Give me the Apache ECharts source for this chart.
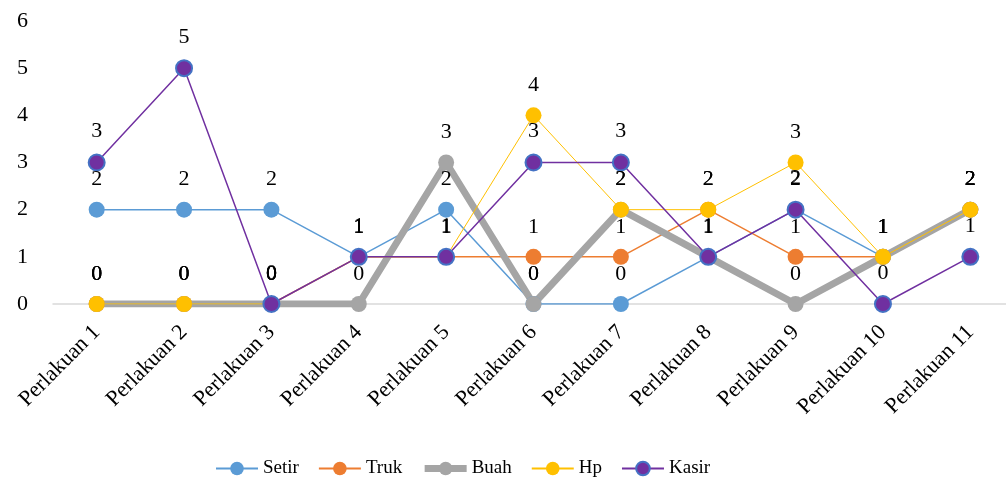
<!DOCTYPE html>
<html>
<head>
<meta charset="utf-8">
<script src="https://cdn.jsdelivr.net/npm/echarts@6/dist/echarts.min.js"></script>
<style>
  html, body { margin: 0; padding: 0; background: #fff; }
  #chart { width: 1006px; height: 481px; }
</style>
</head>
<body>
<div id="chart"></div>
<script>
// Categories and values per series
const categories = ['Perlakuan 1', 'Perlakuan 2', 'Perlakuan 3', 'Perlakuan 4', 'Perlakuan 5',
  'Perlakuan 6', 'Perlakuan 7', 'Perlakuan 8', 'Perlakuan 9', 'Perlakuan 10', 'Perlakuan 11'];
const setir = [2, 2, 2, 1, 2, 0, 0, 1, 2, 1, 2];
const truk  = [0, 0, 0, 1, 1, 1, 1, 2, 1, 1, 2];
const buah  = [0, 0, 0, 0, 3, 0, 2, 1, 0, 1, 2];
const hp    = [0, 0, 0, 1, 1, 4, 2, 2, 3, 1, 2];
const kasir = [3, 5, 0, 1, 1, 3, 3, 1, 2, 0, 1];
const yTicks = [0, 1, 2, 3, 4, 5, 6];

const FONT = '"Liberation Serif", "Times New Roman", serif';

function lineSeries(name, data, color, width, opts) {
  opts = opts || {};
  return {
    name: name,
    type: 'line',
    data: data,
    symbol: 'circle',
    symbolSize: 16,
    lineStyle: { color: color, width: width },
    itemStyle: {
      color: opts.fill || color,
      borderColor: opts.border || color,
      borderWidth: opts.borderWidth || 0
    },
    label: {
      show: true,
      position: 'top',
      distance: 11,
      color: '#000',
      fontFamily: FONT,
      fontSize: 22
    },
    emphasis: { disabled: true },
    animation: false
  };
}

const chart = echarts.init(document.getElementById('chart'));
chart.setOption({
  backgroundColor: '#fff',
  // the plot extends a little past the right edge, so the last half-band is cut
  grid: { left: 53, top: 21, width: 961, bottom: 177, containLabel: false, outerBoundsMode: 'none' },
  legend: {
    top: 454,
    left: 210,
    itemWidth: 42,
    itemHeight: 17,
    itemGap: 19,
    textStyle: { fontFamily: FONT, fontSize: 19, color: '#000' },
    data: [
      'Setir',
      'Truk',
      { name: 'Buah', lineStyle: { width: 7 } },
      'Hp',
      'Kasir'
    ]
  },
  xAxis: {
    type: 'category',
    data: categories,
    boundaryGap: true,
    axisLine: { show: true, lineStyle: { color: '#D9D9D9', width: 1.5 } },
    axisTick: { show: false },
    axisLabel: {
      interval: 0,
      rotate: 45,
      margin: 25,
      fontFamily: FONT,
      fontSize: 22,
      color: '#000'
    }
  },
  yAxis: {
    type: 'value',
    min: yTicks[0],
    max: yTicks[yTicks.length - 1],
    interval: 1,
    axisLine: { show: false },
    axisTick: { show: false },
    splitLine: { show: false },
    axisLabel: {
      margin: 25,
      fontFamily: FONT,
      fontSize: 22,
      color: '#000'
    }
  },
  series: [
    lineSeries('Setir', setir, '#5B9BD5', 1.5),
    lineSeries('Truk', truk, '#ED7D31', 1.5),
    lineSeries('Buah', buah, '#A5A5A5', 7),
    lineSeries('Hp', hp, '#FFC000', 1),
    lineSeries('Kasir', kasir, '#7030A0', 1.5, { fill: '#7030A0', border: '#4472C4', borderWidth: 2 })
  ]
});
</script>
</body>
</html>
